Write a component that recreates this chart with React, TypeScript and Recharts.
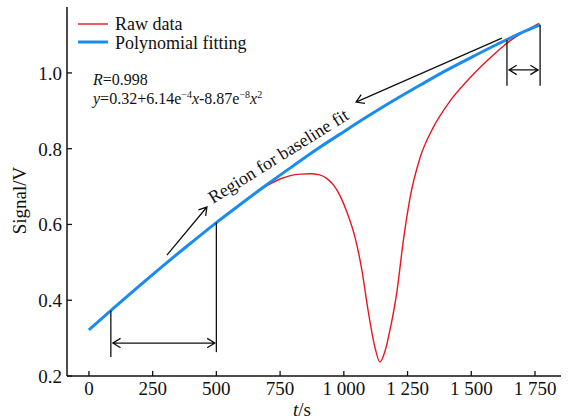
import React from "react";
import { LineChart, Line, XAxis, YAxis, ReferenceLine, ReferenceDot, Legend } from "recharts";

// polynomial fit (blue)
const fitTime = [0, 100, 200, 300, 400, 500, 600, 700, 800, 900, 1000, 1100, 1200, 1300, 1400, 1500, 1600, 1700, 1770];
const fitSignal = [0.322, 0.381, 0.439, 0.496, 0.551, 0.605, 0.656, 0.706, 0.754, 0.801, 0.845, 0.888, 0.929, 0.968, 1.006, 1.041, 1.075, 1.107, 1.127];

// raw signal (red)
const rawTime = [0, 100, 200, 300, 400, 500, 600, 700, 750, 790, 830, 867, 905, 934, 960, 985, 1012, 1044, 1071, 1095, 1122, 1142, 1160, 1181, 1209, 1232, 1260, 1299, 1350, 1417, 1495, 1562, 1613, 1650, 1700, 1731, 1766];
const rawSignal = [0.322, 0.381, 0.439, 0.496, 0.551, 0.605, 0.656, 0.703, 0.720, 0.729, 0.733, 0.734, 0.731, 0.721, 0.704, 0.676, 0.633, 0.566, 0.479, 0.374, 0.276, 0.237, 0.262, 0.321, 0.426, 0.550, 0.671, 0.776, 0.855, 0.926, 0.987, 1.032, 1.063, 1.084, 1.106, 1.118, 1.131];

const timeTicks = [0, 250, 500, 750, 1000, 1250, 1500, 1750];
const signalTicks = [0.2, 0.4, 0.6, 0.8, 1.0];

const fitData = fitTime.map((t, i) => ({ t, v: fitSignal[i] }));
const rawData = rawTime.map((t, i) => ({ t, v: rawSignal[i] }));

const FONT = '"Liberation Serif", "Times New Roman", Times, serif';
const RED = "#e8161f";
const BLUE = "#1a8cf0";
const INK = "#111";
const X_DOMAIN = [-86, 1852];
const Y_DOMAIN = [0.2, 1.174];

const fmtTime = (v: number) => (v >= 1000 ? `${Math.floor(v / 1000)} ${String(v % 1000).padStart(3, "0")}` : String(v));

const BottomTick = ({ x, y, payload }: any) => (
  <g>
    <line x1={x} x2={x} y1={y} y2={y - 5} stroke={INK} strokeWidth={1.3} />
    <text x={x} y={y + 19} textAnchor="middle" fontSize={19} fontFamily={FONT} fill={INK}>
      {fmtTime(payload.value)}
    </text>
  </g>
);
const TopTick = ({ x, y }: any) => <line x1={x} x2={x} y1={y} y2={y + 5} stroke={INK} strokeWidth={1.3} />;
const LeftTick = ({ x, y, payload }: any) => (
  <g>
    <line x1={x} x2={x + 5} y1={y} y2={y} stroke={INK} strokeWidth={1.3} />
    <text x={x - 5} y={y + 7} textAnchor="end" fontSize={19} fontFamily={FONT} fill={INK}>
      {payload.value.toFixed(1)}
    </text>
  </g>
);
const RightTick = ({ x, y }: any) => <line x1={x} x2={x - 5} y1={y} y2={y} stroke={INK} strokeWidth={1.3} />;

function head(px: number, py: number, fx: number, fy: number) {
  // open chevron at (px,py), pointing away from (fx,fy)
  const a = Math.atan2(py - fy, px - fx);
  const L = 9;
  const s = 0.55;
  const p1 = [px - L * Math.cos(a - s), py - L * Math.sin(a - s)];
  const p2 = [px - L * Math.cos(a + s), py - L * Math.sin(a + s)];
  return `M${p1[0]},${p1[1]} L${px},${py} L${p2[0]},${p2[1]}`;
}

const arrow = (mode: "none" | "end" | "both") => (props: any) => {
  const { x1, y1, x2, y2 } = props;
  let d = `M${x1},${y1} L${x2},${y2}`;
  if (mode !== "none") d += " " + head(x2, y2, x1, y1);
  if (mode === "both") d += " " + head(x1, y1, x2, y2);
  return <path d={d} fill="none" stroke={INK} strokeWidth={1.3} />;
};

const textShape = (content: React.ReactNode, angle = 0, size = 18) => (props: any) => (
  <text
    x={props.cx}
    y={props.cy}
    fontSize={size}
    fontFamily={FONT}
    fill={INK}
    transform={angle ? `rotate(${angle} ${props.cx} ${props.cy})` : undefined}
  >
    {content}
  </text>
);

const legendItems = [
  { name: "Raw data", color: RED, w: 1.4 },
  { name: "Polynomial fitting", color: BLUE, w: 3 },
];

const LegendBox = () => (
  <svg width={200} height={40} style={{ display: "block" }}>
    {legendItems.map((it, i) => (
      <g key={it.name}>
        <line x1={0} x2={30} y1={9 + i * 18} y2={9 + i * 18} stroke={it.color} strokeWidth={it.w} />
        <text x={37} y={15 + i * 19} fontSize={18} fontFamily={FONT} fill={INK}>
          {it.name}
        </text>
      </g>
    ))}
  </svg>
);

export default function App() {
  return (
    <div style={{ position: "absolute", left: 0, top: 0, background: "#fff" }}>
      <LineChart width={568} height={419} margin={{ top: 7, right: 7, bottom: 0, left: 0 }}>
        <XAxis
          type="number"
          dataKey="t"
          domain={X_DOMAIN}
          ticks={timeTicks}
          interval={0}
          height={43}
          tickSize={0}
          tickMargin={0}
          tickLine={false}
          tick={<BottomTick />}
          axisLine={{ stroke: INK, strokeWidth: 1.5 }}
          allowDataOverflow
          label={{
            content: ({ viewBox }: any) => (
              <text x={viewBox.x + viewBox.width / 2 - 12} y={viewBox.y + 40} textAnchor="middle" fontSize={19} fontFamily={FONT} fill={INK}>
                <tspan fontStyle="italic">t</tspan>/s
              </text>
            ),
          }}
        />
        <XAxis
          xAxisId="top"
          orientation="top"
          type="number"
          dataKey="t"
          domain={X_DOMAIN}
          ticks={timeTicks}
          interval={0}
          height={0}
          tickSize={0}
          tickMargin={0}
          tickLine={false}
          tick={<TopTick />}
          axisLine={{ stroke: INK, strokeWidth: 1.5 }}
          allowDataOverflow
        />
        <YAxis
          type="number"
          domain={Y_DOMAIN}
          ticks={signalTicks}
          interval={0}
          width={67}
          tickSize={0}
          tickMargin={0}
          tickLine={false}
          tick={<LeftTick />}
          axisLine={{ stroke: INK, strokeWidth: 1.5 }}
          allowDataOverflow
          label={{
            content: ({ viewBox }: any) => {
              const cx = viewBox.x + 26;
              const cy = viewBox.y + viewBox.height / 2 + 9;
              return (
                <text x={cx} y={cy} textAnchor="middle" fontSize={19} fontFamily={FONT} fill={INK} transform={`rotate(-90 ${cx} ${cy})`}>
                  Signal/V
                </text>
              );
            },
          }}
        />
        <YAxis
          yAxisId="right"
          orientation="right"
          type="number"
          domain={Y_DOMAIN}
          ticks={signalTicks}
          interval={0}
          width={0}
          tickSize={0}
          tickMargin={0}
          tickLine={false}
          tick={<RightTick />}
          axisLine={{ stroke: INK, strokeWidth: 1.5 }}
          allowDataOverflow
        />
        <Legend
          layout="vertical"
          align="center"
          verticalAlign="middle"
          content={<LegendBox />}
          wrapperStyle={{ left: 78, top: 15, width: 200, height: 40 }}
        />
        <Line data={rawData} dataKey="v" name="Raw data" type="monotone" stroke={RED} strokeWidth={1.4} dot={false} isAnimationActive={false} />
        <Line data={fitData} dataKey="v" name="Polynomial fitting" type="monotone" stroke={BLUE} strokeWidth={3} dot={false} isAnimationActive={false} />

        {/* left baseline region */}
        <ReferenceLine segment={[{ x: 86, y: 0.372 }, { x: 86, y: 0.25 }]} shape={arrow("none")} />
        <ReferenceLine segment={[{ x: 500, y: 0.605 }, { x: 500, y: 0.263 }]} shape={arrow("none")} />
        <ReferenceLine segment={[{ x: 94, y: 0.287 }, { x: 494, y: 0.287 }]} shape={arrow("both")} />
        {/* right baseline region */}
        <ReferenceLine segment={[{ x: 1640, y: 1.087 }, { x: 1640, y: 0.966 }]} shape={arrow("none")} />
        <ReferenceLine segment={[{ x: 1770, y: 1.127 }, { x: 1770, y: 0.966 }]} shape={arrow("none")} />
        <ReferenceLine segment={[{ x: 1648, y: 1.008 }, { x: 1762, y: 1.008 }]} shape={arrow("both")} />
        {/* pointers to label */}
        <ReferenceLine segment={[{ x: 306, y: 0.519 }, { x: 463, y: 0.646 }]} shape={arrow("end")} />
        <ReferenceLine segment={[{ x: 1620, y: 1.092 }, { x: 1048, y: 0.923 }]} shape={arrow("end")} />

        <ReferenceDot x={16} y={0.967} shape={textShape(<><tspan fontStyle="italic">R</tspan>=0.998</>, 0, 16)} />
        <ReferenceDot
          x={16}
          y={0.917}
          shape={textShape(
            <>
              <tspan fontStyle="italic">y</tspan>=0.32+6.14e
              <tspan fontSize={10} dy={-6}>−4</tspan>
              <tspan fontStyle="italic" dy={6}>x</tspan>-8.87e
              <tspan fontSize={10} dy={-6}>−8</tspan>
              <tspan fontStyle="italic" dy={6}>x</tspan>
              <tspan fontSize={10} dy={-6}>2</tspan>
            </>,
            0,
            16
          )}
        />
        <ReferenceDot x={487} y={0.654} shape={textShape("Region for baseline fit", -32)} />
      </LineChart>
    </div>
  );
}
